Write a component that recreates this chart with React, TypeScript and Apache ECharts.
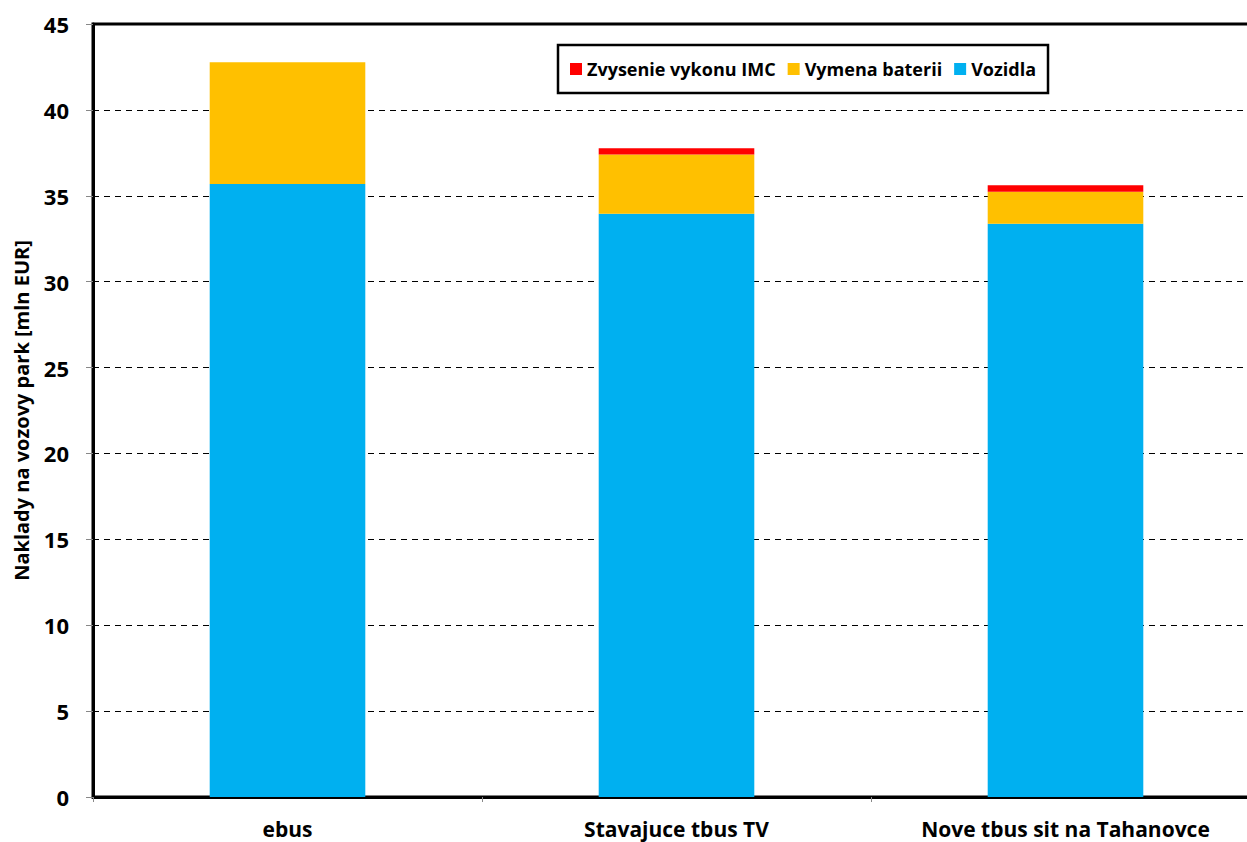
import React, { useEffect, useRef } from "react";
import * as echarts from "echarts";

const categories = ["ebus", "Stavajuce tbus TV", "Nove tbus sit na Tahanovce"];
const vozidla = [35.68, 33.95, 33.37];
const vymenaBaterii = [7.1, 3.46, 1.86];
const zvysenieIMC = [0, 0.35, 0.39];
const yAxisName = "Naklady na vozovy park [mln EUR]";

const FONT = "'Open Sans', 'Noto Sans', sans-serif";

export default function App() {
  const ref = useRef<HTMLDivElement>(null);
  useEffect(() => {
    if (!ref.current) return;
    const chart = echarts.init(ref.current, null, { renderer: "svg" });
    chart.setOption({
      animation: false,
      backgroundColor: "#ffffff",
      textStyle: { fontFamily: FONT },
      grid: {
        left: 93,
        width: 1167,
        top: 24,
        height: 773,
        outerBoundsMode: "none",
        containLabel: false,
        show: true,
        borderColor: "#000",
        borderWidth: 3,
        backgroundColor: "transparent",
      },
      legend: {
        data: ["Zvysenie vykonu IMC", "Vymena baterii", "Vozidla"],
        left: 558,
        top: 45,
        padding: [15, 12, 15, 12],
        borderColor: "#000",
        borderWidth: 2.5,
        icon: "rect",
        itemWidth: 12,
        itemHeight: 12,
        itemGap: 12,
        textStyle: { fontFamily: FONT, fontWeight: "bold", fontSize: 18, color: "#000" },
      },
      xAxis: {
        type: "category",
        data: categories,
        axisLine: { lineStyle: { color: "#000", width: 3 } },
        axisTick: { show: true, alignWithLabel: false, length: 5, lineStyle: { color: "#888" } },
        axisLabel: { fontFamily: FONT, fontWeight: "bold", fontSize: 21, color: "#000", margin: 21 },
      },
      yAxis: {
        type: "value",
        min: 0,
        max: 45,
        interval: 5,
        name: yAxisName,
        nameLocation: "middle",
        nameGap: 62,
        nameTextStyle: { fontFamily: FONT, fontWeight: "bold", fontSize: 20, color: "#000" },
        axisLine: { show: true, lineStyle: { color: "#000", width: 3 } },
        axisTick: { show: true, length: 7, lineStyle: { color: "#888" } },
        axisLabel: { fontFamily: FONT, fontWeight: "bold", fontSize: 22, color: "#000", margin: 24 },
        splitLine: { show: true, lineStyle: { color: "#000", type: [6, 5], width: 1 } },
      },
      series: [
        {
          name: "Vozidla",
          type: "bar",
          stack: "total",
          barWidth: "40%",
          data: vozidla,
          itemStyle: { color: "#00B0F0" },
        },
        {
          name: "Vymena baterii",
          type: "bar",
          stack: "total",
          data: vymenaBaterii,
          itemStyle: { color: "#FFC000" },
        },
        {
          name: "Zvysenie vykonu IMC",
          type: "bar",
          stack: "total",
          data: zvysenieIMC,
          itemStyle: { color: "#FF0000" },
        },
      ],
    });
    return () => chart.dispose();
  }, []);
  return (
    <div
      ref={ref}
      style={{ position: "fixed", left: 0, top: 0, width: 1247, height: 842 }}
    />
  );
}
